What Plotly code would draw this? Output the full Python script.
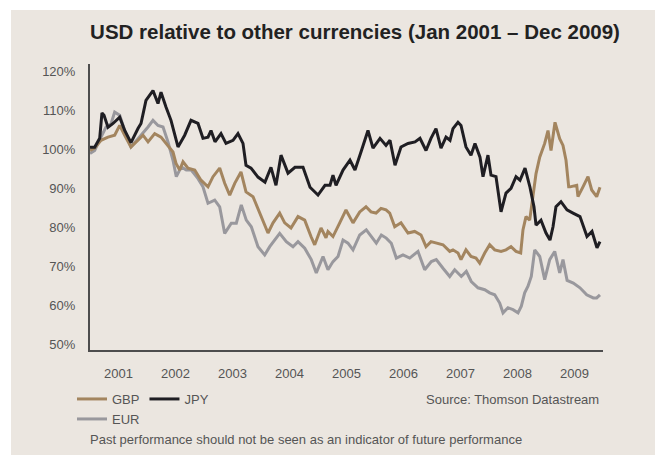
import plotly.graph_objects as go

# ---------------- data ----------------
years = [2001, 2002, 2003, 2004, 2005, 2006, 2007, 2008, 2009]
year_labels = [str(y) for y in years]
pct_ticks = [50, 60, 70, 80, 90, 100, 110, 120]
pct_labels = [f"{v}%" for v in pct_ticks]

# time in decimal years, values in % of Jan 2001 level
jpy_t = [2001.000, 2001.082, 2001.170, 2001.210, 2001.246, 2001.316, 2001.404, 2001.521, 2001.609, 2001.719,
         2001.842, 2001.895, 2001.982, 2002.105, 2002.193, 2002.246, 2002.333, 2002.421, 2002.544, 2002.661,
         2002.772, 2002.895, 2002.982, 2003.070, 2003.123, 2003.193, 2003.298, 2003.386, 2003.509, 2003.596,
         2003.684, 2003.737, 2003.825, 2003.947, 2004.070, 2004.175, 2004.263, 2004.351, 2004.474, 2004.596,
         2004.737, 2004.860, 2005.000, 2005.123, 2005.211, 2005.263, 2005.316, 2005.439, 2005.561, 2005.649,
         2005.754, 2005.877, 2005.965, 2006.088, 2006.193, 2006.263, 2006.351, 2006.456, 2006.579, 2006.702,
         2006.789, 2006.895, 2006.982, 2007.070, 2007.158, 2007.246, 2007.316, 2007.368, 2007.456, 2007.509,
         2007.596, 2007.684, 2007.754, 2007.842, 2007.895, 2007.982, 2008.035, 2008.123, 2008.211, 2008.298,
         2008.386, 2008.474, 2008.544, 2008.632, 2008.719, 2008.789, 2008.825, 2008.912, 2009.000, 2009.070,
         2009.123, 2009.175, 2009.263, 2009.368, 2009.474, 2009.596, 2009.719, 2009.807, 2009.895, 2009.947]
jpy_v = [100.5, 100.5, 102.8, 109.3, 108.7, 105.6, 106.6, 108.2, 104.8, 101.7,
         105.3, 106.6, 112.5, 115.0, 111.7, 114.6, 110.8, 107.4, 100.6, 103.6,
         107.4, 106.6, 102.8, 103.1, 104.8, 101.9, 104.0, 101.5, 102.3, 104.0,
         101.5, 95.9, 95.2, 92.9, 91.6, 95.4, 90.8, 98.5, 93.9, 95.4,
         95.4, 90.3, 88.3, 90.8, 90.8, 93.4, 90.8, 94.7, 97.2, 94.7,
         99.3, 104.8, 100.3, 102.8, 101.0, 102.3, 95.9, 100.6, 101.5, 101.9,
         102.8, 99.7, 102.8, 105.3, 100.3, 103.1, 102.3, 105.3, 106.9, 106.1,
         100.6, 98.5, 101.5, 98.0, 93.0, 98.5, 93.4, 93.0, 84.0, 88.8,
         90.0, 93.0, 92.1, 95.2, 90.3, 85.3, 80.6, 81.9, 78.6, 76.8,
         80.2, 85.3, 86.6, 84.5, 83.7, 82.8, 77.7, 79.0, 74.8, 76.4]

gbp_t = [2001.000, 2001.082, 2001.193, 2001.316, 2001.433, 2001.521, 2001.609, 2001.719, 2001.842, 2001.930,
         2002.018, 2002.135, 2002.246, 2002.368, 2002.456, 2002.509, 2002.574, 2002.632, 2002.719, 2002.837,
         2002.947, 2003.070, 2003.158, 2003.275, 2003.363, 2003.451, 2003.539, 2003.649, 2003.737, 2003.860,
         2004.000, 2004.123, 2004.211, 2004.328, 2004.416, 2004.526, 2004.649, 2004.767, 2004.877, 2004.942,
         2005.053, 2005.140, 2005.175, 2005.263, 2005.381, 2005.491, 2005.614, 2005.732, 2005.842, 2005.930,
         2006.018, 2006.105, 2006.193, 2006.258, 2006.346, 2006.456, 2006.579, 2006.696, 2006.807, 2006.895,
         2006.982, 2007.105, 2007.193, 2007.311, 2007.368, 2007.456, 2007.509, 2007.596, 2007.684, 2007.772,
         2007.837, 2007.925, 2008.012, 2008.100, 2008.211, 2008.298, 2008.386, 2008.474, 2008.556, 2008.596,
         2008.649, 2008.714, 2008.772, 2008.825, 2008.890, 2008.977, 2009.035, 2009.088, 2009.158, 2009.240,
         2009.298, 2009.351, 2009.398, 2009.421, 2009.539, 2009.561, 2009.649, 2009.737, 2009.802, 2009.889,
         2009.947]
gbp_v = [99.7, 100.3, 102.3, 103.1, 103.6, 106.1, 103.6, 100.6, 102.3, 103.6,
         101.9, 104.0, 103.1, 101.0, 99.3, 96.4, 94.7, 96.8, 95.2, 94.7,
         92.1, 90.4, 93.0, 95.2, 91.3, 88.3, 91.3, 94.2, 89.1, 87.9,
         82.8, 78.6, 81.2, 83.7, 81.2, 79.9, 82.8, 81.9, 77.7, 75.6,
         79.9, 77.4, 79.0, 77.7, 81.2, 84.5, 81.2, 84.0, 85.3, 84.0,
         83.7, 84.9, 84.5, 83.7, 80.2, 81.2, 78.6, 79.0, 78.1, 75.1,
         76.4, 76.0, 75.6, 73.9, 74.3, 73.5, 71.8, 74.3, 72.6, 72.2,
         70.9, 73.5, 75.6, 74.3, 73.9, 74.3, 75.1, 73.9, 73.5, 79.4,
         82.8, 81.9, 88.7, 93.8, 98.0, 101.5, 104.8, 99.7, 106.9, 102.7,
         101.0, 97.2, 90.4, 90.4, 90.8, 87.9, 90.4, 93.0, 89.6, 87.9,
         90.3]

eur_t = [2001.000, 2001.082, 2001.193, 2001.281, 2001.368, 2001.433, 2001.521, 2001.609, 2001.719, 2001.842,
         2001.930, 2002.018, 2002.105, 2002.193, 2002.281, 2002.368, 2002.456, 2002.514, 2002.602, 2002.689,
         2002.777, 2002.895, 2002.982, 2003.070, 2003.188, 2003.275, 2003.363, 2003.479, 2003.567, 2003.654,
         2003.742, 2003.830, 2003.947, 2004.065, 2004.153, 2004.240, 2004.328, 2004.444, 2004.561, 2004.649,
         2004.767, 2004.882, 2004.970, 2005.088, 2005.175, 2005.263, 2005.351, 2005.439, 2005.526, 2005.614,
         2005.732, 2005.847, 2005.935, 2006.023, 2006.111, 2006.198, 2006.286, 2006.374, 2006.491, 2006.609,
         2006.754, 2006.872, 2006.988, 2007.075, 2007.193, 2007.311, 2007.398, 2007.514, 2007.602, 2007.689,
         2007.807, 2007.925, 2008.012, 2008.100, 2008.188, 2008.246, 2008.333, 2008.421, 2008.509, 2008.567,
         2008.626, 2008.684, 2008.742, 2008.802, 2008.890, 2008.977, 2009.065, 2009.153, 2009.240, 2009.298,
         2009.370, 2009.479, 2009.596, 2009.714, 2009.830, 2009.889, 2009.947]
eur_v = [98.9, 99.7, 103.1, 105.7, 106.5, 109.5, 108.7, 104.8, 100.6, 102.7,
         104.0, 105.7, 107.4, 106.1, 105.7, 101.9, 97.2, 93.0, 95.5, 94.7,
         94.7, 92.5, 90.4, 86.2, 87.0, 85.3, 78.5, 81.1, 81.1, 85.8,
         81.9, 80.2, 75.1, 73.0, 75.1, 76.8, 78.5, 76.4, 75.1, 76.4,
         74.7, 71.8, 68.4, 72.6, 69.2, 71.3, 72.6, 76.8, 76.0, 74.3,
         78.1, 79.4, 77.7, 76.0, 78.1, 77.3, 76.0, 72.2, 73.0, 72.2,
         73.9, 69.2, 71.3, 71.8, 69.6, 67.5, 69.2, 67.5, 68.8, 66.2,
         64.6, 64.1, 63.3, 62.8, 60.7, 58.2, 59.5, 59.0, 58.2, 59.9,
         63.3, 65.0, 67.5, 74.3, 72.6, 66.7, 71.8, 73.9, 68.4, 71.8,
         66.5, 65.8, 64.6, 62.8, 62.0, 62.0, 62.8]

# ---------------- styling ----------------
BG = "#ebe6e0"
TXT = "#555555"
FONT = "Liberation Sans"

fig = go.Figure()
fig.add_trace(go.Scatter(x=eur_t, y=eur_v, mode="lines", name="EUR",
                         line=dict(color="#99989d", width=3), legend="legend2"))
fig.add_trace(go.Scatter(x=gbp_t, y=gbp_v, mode="lines", name="GBP",
                         line=dict(color="#a3855f", width=3), legend="legend"))
fig.add_trace(go.Scatter(x=jpy_t, y=jpy_v, mode="lines", name="JPY",
                         line=dict(color="#1f1e23", width=3), legend="legend"))

W, H = 655, 455
L, R, T, B = 90, 52, 64, 105
pw, ph = W - L - R, H - T - B


def px_x(p):
    return (p - L) / pw


def px_y(p):
    return (H - B - p) / ph


fig.update_layout(
    width=W, height=H, autosize=False,
    margin=dict(l=L, r=R, t=T, b=B, pad=0),
    paper_bgcolor="white",
    plot_bgcolor="rgba(0,0,0,0)",
    font=dict(family=FONT, size=13, color=TXT),
    title=dict(text="<b>USD relative to other currencies (Jan 2001 – Dec 2009)</b>",
               font=dict(family=FONT, size=20.5, color="#222222"),
               xref="container", yref="container",
               x=355 / W, y=1 - 32 / H, xanchor="center", yanchor="middle"),
    xaxis=dict(range=[2001, 2010], tickmode="array",
               tickvals=[y + 0.5 for y in years], ticktext=year_labels,
               showline=True, linecolor="#4d4d4d", linewidth=2,
               showgrid=False, zeroline=False, ticks="",
               ticklabelstandoff=10, tickfont=dict(size=13, color=TXT)),
    yaxis=dict(range=[48.7, 121.8], tickmode="array",
               tickvals=pct_ticks, ticktext=pct_labels,
               showline=True, linecolor="#4d4d4d", linewidth=2,
               showgrid=False, zeroline=False, ticks="",
               ticklabelstandoff=10, tickfont=dict(size=13, color=TXT)),
    legend=dict(orientation="h", x=px_x(72), y=px_y(399),
                xanchor="left", yanchor="middle",
                bgcolor="rgba(0,0,0,0)", font=dict(size=13, color=TXT),
                itemwidth=30, tracegroupgap=0),
    legend2=dict(orientation="h", x=px_x(72), y=px_y(419),
                 xanchor="left", yanchor="middle",
                 bgcolor="rgba(0,0,0,0)", font=dict(size=13, color=TXT),
                 itemwidth=30),
    showlegend=True,
)

fig.add_shape(type="rect", xref="paper", yref="paper", layer="below",
              x0=px_x(11), x1=px_x(W + 5), y0=px_y(H + 5), y1=px_y(10),
              fillcolor=BG, line=dict(width=0))

fig.add_annotation(text="Source: Thomson Datastream", xref="paper", yref="paper",
                   x=px_x(601), y=px_y(399), xanchor="right", yanchor="middle",
                   showarrow=False, font=dict(size=13, color=TXT))
fig.add_annotation(text="Past performance should not be seen as an indicator of future performance",
                   xref="paper", yref="paper",
                   x=px_x(88), y=px_y(440), xanchor="left", yanchor="middle",
                   showarrow=False, font=dict(size=13, color=TXT))

fig.write_html("out.html")
